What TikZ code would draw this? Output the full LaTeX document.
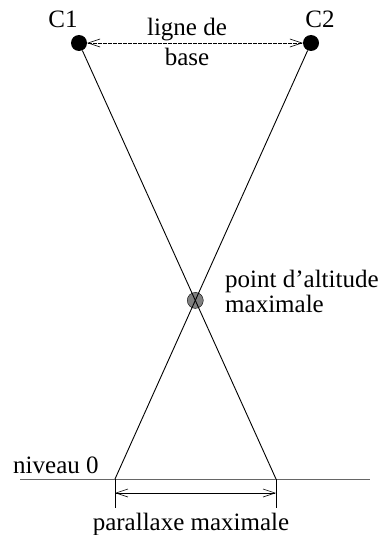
\documentclass[tikz,border=0pt]{standalone}
\usepackage{fontspec}
\setmainfont{Liberation Serif}
\usetikzlibrary{arrows.meta}

\begin{document}
\begin{tikzpicture}[
			x=1pt,
			y=-1pt,
			every node/.style={
					font=\fontsize{25}{25}\selectfont,
					inner sep=0pt  % Text sits right on its anchor
				},
			camdot/.style={circle, fill=black, minimum size=16pt},
			altdot/.style={circle, draw=black, fill=black!50, minimum size=16pt},
			ray/.style={line width=0.9pt},
			ground/.style={line width=1pt, black!60},
			measure/.style={{Straight Barb[length=12pt, width=8pt]}-{Straight Barb[length=12pt, width=8pt]}, line width=0.6pt}
		]
		\useasboundingbox (0,0) rectangle (388,535);

		\node[camdot] (c1) at (79, 43) {};
		\node[camdot] (c2) at (311, 43) {};
		\coordinate (gl) at (115, 479);
		\coordinate (gr) at (276, 479);
		\coordinate (w) at (20, 479);
		\coordinate (e) at (370, 479);
		\coordinate (tl) at (115, 508);
		\coordinate (tr) at (276, 508);
		\coordinate (ml) at (115, 493);
		\coordinate (mr) at (276, 493);

		\node[altdot] (alt) at (intersection of c1--gr and c2--gl) {};

		\draw[ray] (c1) -- (gr);
		\draw[ray] (c2) -- (gl);
		\draw[measure, dash pattern=on 4pt off 1pt] (c1) -- (c2);

		\draw[ground] (w) -- (e);
		\draw[ray] (gl) -- (tl);
		\draw[ray] (gr) -- (tr);
		\draw[measure] (ml) -- (mr);

		\node[anchor=base] (c1lbl) at (63, 28) {C1};
		\node[anchor=base] (c2lbl) at (320, 28) {C2};
		\node[align=center] (baselbl) at (187, 42) {ligne de\\[5pt]base};
		\node[align=left, anchor=west] (altlbl) at (225, 291) {point d'altitude\\maximale};
		\node[anchor=base west] (lvl) at (13, 473) {niveau 0};
		\node[anchor=base] (parlbl) at (191, 530) {parallaxe maximale};
	\end{tikzpicture}
\end{document}
